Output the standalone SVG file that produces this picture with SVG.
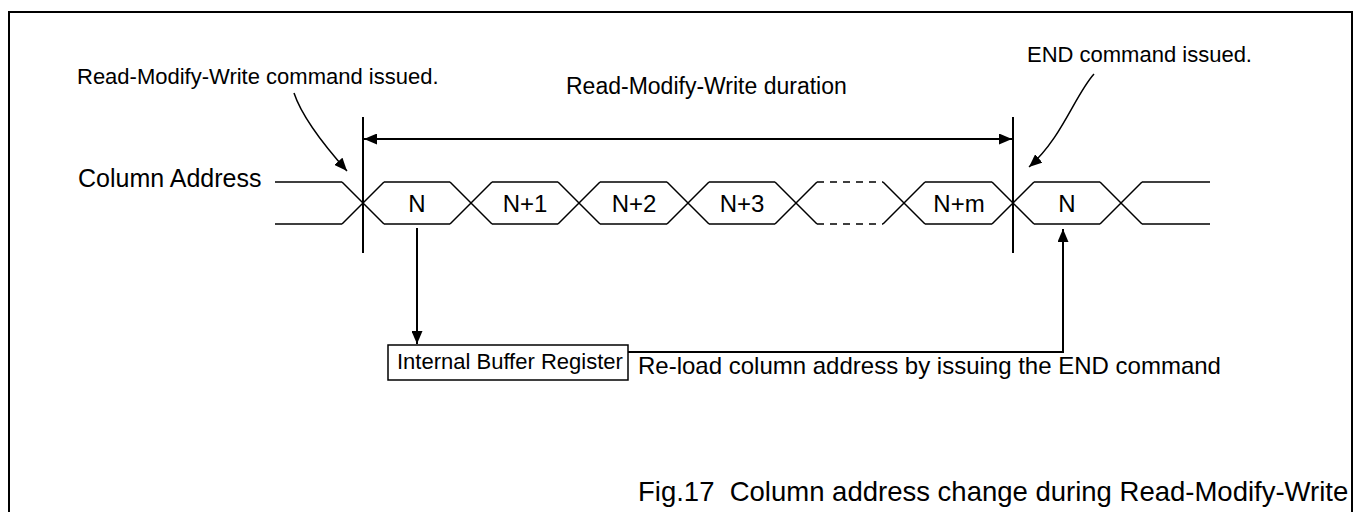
<svg xmlns="http://www.w3.org/2000/svg" width="1356" height="512" viewBox="0 0 1356 512">
<style>
  text { font-family: "Liberation Sans", Arial, sans-serif; fill: #000; }
  .sig { stroke: #000; stroke-width: 1.5; fill: none; }
  .thick { stroke: #000; stroke-width: 2; fill: none; }
  .dash { stroke-dasharray: 7 6; }
  .lbl { font-size: 24px; text-anchor: middle; }
</style>
<defs>
  <marker id="ah" viewBox="0 0 13 11" refX="13" refY="5.5" markerWidth="13" markerHeight="11" markerUnits="userSpaceOnUse" orient="auto-start-reverse">
    <path d="M0,0 L13,5.5 L0,11 Z" fill="#000"/>
  </marker>
</defs>
<rect x="9" y="12" width="1343" height="520" fill="#fff" stroke="#000" stroke-width="2"/>

<g id="signal">
  <path class="sig" d="M275,182 H342 M384,182 H450 M492,182 H558 M600,182 H667 M709,182 H775 M925,182 H992 M1034,182 H1100 M1142,182 H1210"/>
  <path class="sig" d="M275,224 H342 M384,224 H450 M492,224 H558 M600,224 H667 M709,224 H775 M925,224 H992 M1034,224 H1100 M1142,224 H1210"/>
  <path class="sig dash" d="M817,182 H883 M817,224 H883"/>
  <path class="sig" d="M342,182 L384,224 M342,224 L384,182 M450,182 L492,224 M450,224 L492,182 M558,182 L600,224 M558,224 L600,182 M667,182 L709,224 M667,224 L709,182 M775,182 L817,224 M775,224 L817,182 M883,182 L925,224 M883,224 L925,182 M992,182 L1034,224 M992,224 L1034,182 M1100,182 L1142,224 M1100,224 L1142,182"/>
  <text class="lbl" x="417" y="212">N</text>
  <text class="lbl" x="525" y="212">N+1</text>
  <text class="lbl" x="634" y="212">N+2</text>
  <text class="lbl" x="742" y="212">N+3</text>
  <text class="lbl" x="959" y="212">N+m</text>
  <text class="lbl" x="1067" y="212">N</text>
  <text x="78" y="187" font-size="25">Column Address</text>
</g>

<g id="markers">
  <line class="thick" x1="363" y1="117" x2="363" y2="253"/>
  <line class="thick" x1="1013" y1="117" x2="1013" y2="253"/>
</g>

<g id="duration">
  <text x="566" y="94" font-size="23">Read-Modify-Write duration</text>
</g>

<g id="rmw-label">
  <text x="77" y="84" font-size="22">Read-Modify-Write command issued.</text>
</g>

<g id="end-label">
  <text x="1027" y="62" font-size="22">END command issued.</text>
</g>

<g id="buffer">
  <rect x="388" y="345" width="240" height="35" fill="#fff" stroke="#000" stroke-width="1.5"/>
  <text x="397" y="369" font-size="22">Internal Buffer Register</text>
</g>

<g id="reload-label">
  <text x="638" y="374" font-size="24">Re-load column address by issuing the END command</text>
</g>

<g id="connectors">
  <line class="thick" x1="364" y1="139" x2="1012" y2="139" marker-start="url(#ah)" marker-end="url(#ah)"/>
  <path class="sig" d="M294,93 C302,117 322,143 347,171" marker-end="url(#ah)"/>
  <path class="sig" d="M1094,74 C1075,95 1062,138 1029,167" marker-end="url(#ah)"/>
  <line class="thick" x1="417" y1="228" x2="417" y2="344" marker-end="url(#ah)"/>
  <polyline class="thick" points="628,352 1063,352 1063,229" marker-end="url(#ah)"/>
</g>

<g id="caption">
  <text x="638" y="501" font-size="27.5" xml:space="preserve">Fig.17  Column address change during Read-Modify-Write</text>
</g>
</svg>
